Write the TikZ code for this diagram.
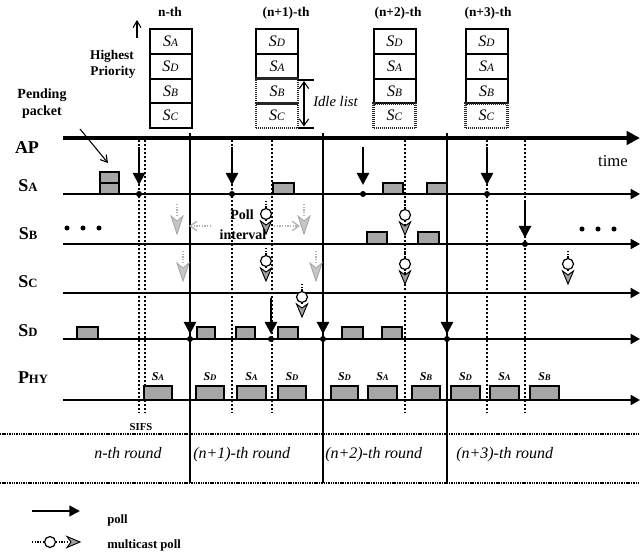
\documentclass[tikz,border=0pt]{standalone}
\usepackage{fontspec}
\setmainfont{Liberation Serif}
\usetikzlibrary{arrows.meta}
\newcommand{\smc}[2]{{\fontsize{#1}{#1}\selectfont #2}}
% multicast poll: name, x, circle-centre y
\newcommand{\mcast}[3]{%
  \node[mcirc] (#1) at (#2,#3) {};
  \coordinate (#1t) at (#2,#3-13);
  \coordinate (#1h) at (#2,#3+7);
  \draw[mstem] (#1t) -- (#1.north);
  \draw[mstem] (#1.south) -- (#1h);
  \draw[mhead] (#2-5.5,#3+7) -- (#2,#3+11) -- (#2+5.5,#3+7) -- (#2,#3+20) -- cycle;}
% grey (skipped) poll: name, x, stem top y
\newcommand{\gpoll}[3]{%
  \coordinate (#1t) at (#2,#3);
  \coordinate (#1h) at (#2,#3+12);
  \draw[gstem] (#1t) -- (#1h);
  \draw[ghead] (#2-6,#3+12) -- (#2,#3+17) -- (#2+6,#3+12) -- (#2,#3+30) -- cycle;}
\begin{document}
\begin{tikzpicture}[x=0.75pt,y=-0.75pt,
  tl/.style={line width=1.5pt,-{Triangle[length=7pt,width=7.5pt]}},
  aptl/.style={line width=2.6pt,-{Triangle[length=10pt,width=10pt]}},
  rndline/.style={line width=1.5pt},
  dotv/.style={line width=1.7pt,dash pattern=on 1.5pt off 1.5pt},
  tabline/.style={line width=1.4pt,dash pattern=on 0.8pt off 0.5pt},
  pollarr/.style={line width=1.9pt,-{Triangle[length=9pt,width=9pt]}},
  dotc/.style={circle,fill=black,inner sep=0pt,minimum size=4.5pt},
  smalldot/.style={circle,fill=black,inner sep=0pt,minimum size=3.8pt},
  pkt/.style={draw=black,line width=1.2pt,fill=gray!70},
  qcell/.style={draw=black,line width=1.5pt,minimum width=31.5pt,minimum height=18.5pt,inner sep=0pt,font=\fontsize{12}{12}\selectfont\itshape},
  qidle/.style={qcell,draw=black!85,dash pattern=on 1pt off 0.5pt,line width=2pt},
  rowlab/.style={font=\fontsize{13.5}{14}\selectfont\bfseries,anchor=base,inner sep=0pt},
  phylab/.style={font=\fontsize{9}{9}\selectfont\bfseries\itshape,anchor=base,inner sep=0pt},
  collab/.style={font=\fontsize{10}{10}\selectfont\bfseries,anchor=base,inner sep=0pt},
  bolds/.style={font=\fontsize{10.5}{11}\selectfont\bfseries,anchor=base,inner sep=0pt},
  roundlab/.style={font=\fontsize{12}{12}\selectfont\itshape,anchor=base west,inner sep=0pt},
  mcirc/.style={circle,draw=black,fill=white,line width=0.9pt,inner sep=0pt,minimum size=8.2pt},
  mstem/.style={line width=1.1pt,dash pattern=on 1pt off 1pt},
  mhead/.style={draw=black,line width=0.7pt,fill=gray!75},
  gstem/.style={draw=gray!60,line width=1pt,dash pattern=on 1pt off 1pt},
  ghead/.style={draw=gray!70,line width=0.6pt,fill=gray!45},
  thinarr/.style={line width=0.8pt,-{Straight Barb[length=5pt,width=6pt]}},
  pint/.style={draw=gray!60,line width=1pt,dash pattern=on 1pt off 1pt,-{Straight Barb[length=5pt,width=7pt]}}
]
\useasboundingbox (0,0) rectangle (640,556);

% ---------------- priority lists ----------------
\node[collab] (c1) at (170,17) {n-th};
\node[collab] (c2) at (286,17) {(n+1)-th};
\node[collab] (c3) at (398,17) {(n+2)-th};
\node[collab] (c4) at (488,17) {(n+3)-th};

\node[qcell] (q1a) at (170.5,41.5) {S\smc{8.5}{A}};
\node[qcell] (q1b) at (170.5,66.2) {S\smc{8.5}{D}};
\node[qcell] (q1c) at (170.5,90.9) {S\smc{8.5}{B}};
\node[qcell] (q1d) at (170.5,115.6) {S\smc{8.5}{C}};

\node[qcell] (q2a) at (277,41.5) {S\smc{8.5}{D}};
\node[qcell] (q2b) at (277,66.2) {S\smc{8.5}{A}};
\node[qidle] (q2c) at (277,90.9) {S\smc{8.5}{B}};
\node[qidle] (q2d) at (277,115.6) {S\smc{8.5}{C}};

\node[qcell] (q3a) at (394.5,41.5) {S\smc{8.5}{D}};
\node[qcell] (q3b) at (394.5,66.2) {S\smc{8.5}{A}};
\node[qcell] (q3c) at (394.5,90.9) {S\smc{8.5}{B}};
\node[qidle] (q3d) at (394.5,115.6) {S\smc{8.5}{C}};

\node[qcell] (q4a) at (486.5,41.5) {S\smc{8.5}{D}};
\node[qcell] (q4b) at (486.5,66.2) {S\smc{8.5}{A}};
\node[qcell] (q4c) at (486.5,90.9) {S\smc{8.5}{B}};
\node[qidle] (q4d) at (486.5,115.6) {S\smc{8.5}{C}};

% idle list bracket
\coordinate (il1) at (298,79.6); \coordinate (il1e) at (314,79.6);
\coordinate (il2) at (298,128);  \coordinate (il2e) at (314,128);
\draw[line width=1.5pt] (il1) -- (il1e);
\draw[line width=1.5pt] (il2) -- (il2e);
\coordinate (ilt) at (304,81); \coordinate (ilb) at (304,126.5);
\draw[line width=0.8pt,{Straight Barb[length=5pt,width=7pt]}-{Straight Barb[length=5pt,width=7pt]}] (ilt) -- (ilb);
\node[font=\fontsize{11}{11}\selectfont\itshape,anchor=base west,inner sep=0pt] (idle) at (313,107) {Idle list};

% highest priority
\coordinate (hpb) at (137,38); \coordinate (hpt) at (137,20);
\draw[thinarr] (hpb) -- (hpt);
\node[bolds,font=\fontsize{10}{11}\selectfont\bfseries] (hp1) at (112,60) {Highest};
\node[bolds,font=\fontsize{10}{11}\selectfont\bfseries] (hp2) at (113,76) {Priority};

% pending packet
\node[bolds] (pp1) at (42,99) {Pending};
\node[bolds] (pp2) at (42,116) {packet};
\coordinate (ppa) at (80,129); \coordinate (ppb) at (108,163);
\draw[thinarr] (ppa) -- (ppb);

% ---------------- row labels ----------------
\node[rowlab] (lAP) at (27,154) {AP};
\node[rowlab] (lSA) at (28,192) {S\smc{9.5}{A}};
\node[rowlab] (lSB) at (28,240) {S\smc{9.5}{B}};
\node[rowlab] (lSC) at (28,288) {S\smc{9.5}{C}};
\node[rowlab] (lSD) at (28,337) {S\smc{9.5}{D}};
\node[rowlab] (lPHY) at (33,383) {P\smc{9.5}{HY}};
\node[font=\fontsize{12.5}{13}\selectfont,anchor=base,inner sep=0pt] (time) at (613,167) {time};

% ---------------- table lines ----------------
\coordinate (t1s) at (0,434); \coordinate (t1e) at (640,434);
\coordinate (t2s) at (0,483); \coordinate (t2e) at (640,483);
\draw[tabline] (t1s) -- (t1e);
\draw[tabline] (t2s) -- (t2e);

% dotted verticals
\foreach \x [count=\i] in {139,145,232,272,405,487,525}{
  \coordinate (dv\i t) at (\x,136); \coordinate (dv\i b) at (\x,413);
  \draw[dotv] (dv\i t) -- (dv\i b);}

% round boundaries
\foreach \x [count=\i] in {190,323,447}{
  \coordinate (sv\i t) at (\x,133); \coordinate (sv\i b) at (\x,483);
  \draw[rndline] (sv\i t) -- (sv\i b);}

% ---------------- time lines ----------------
\coordinate (APs) at (63,138); \coordinate (APe) at (640,138);
\draw[aptl] (APs) -- (APe);
\foreach \n/\y in {SA/194,SB/244,SC/293,SD/339,PHY/400}{
  \coordinate (\n s) at (63,\y); \coordinate (\n e) at (640,\y);
  \draw[tl] (\n s) -- (\n e);}

% ---------------- packets ----------------
\draw[pkt] (100,172) rectangle (119,194);
\draw[line width=0.8pt] (100,183) -- (119,183);
\foreach \a/\b in {273/294,383/403,427/447}{\draw[pkt] (\a,183) rectangle (\b,194);}
\foreach \a/\b in {367/387,418/439}{\draw[pkt] (\a,232) rectangle (\b,244);}
\foreach \a/\b in {77/98,197/215,236/255,278/298,342/363,382/402}{\draw[pkt] (\a,327) rectangle (\b,339);}
\foreach \a/\b/\s [count=\i] in {144/172/A,196/224/D,237/266/A,278/306/D,331/358/D,368/397/A,412/440/B,451/480/D,490/519/A,530/559/B}{
  \draw[pkt] (\a,386) rectangle (\b,400);
  \node[phylab] (ph\i) at ({(\a+\b)/2},381) {S\smc{6.5}{\s}};}
\node[font=\fontsize{8}{8}\selectfont\bfseries,anchor=base,inner sep=0pt] (sifs) at (141,431) {SIFS};

% ---------------- polls ----------------
\foreach \x [count=\i] in {139,232,363,487}{
  \coordinate (pa\i s) at (\x,147); \coordinate (pa\i e) at (\x,185);
  \draw[pollarr] (pa\i s) -- (pa\i e);
  \node[dotc] (pd\i) at (\x,194) {};}
\coordinate (pbs) at (525,202); \coordinate (pbe) at (525,238);
\draw[pollarr] (pbs) -- (pbe);
\node[dotc] (pbd) at (525,244) {};
\foreach \x/\t [count=\i] in {190/300,271/298,323/300,447/300}{
  \coordinate (pds\i) at (\x,\t); \coordinate (pde\i) at (\x,334);
  \draw[pollarr] (pds\i) -- (pde\i);
  \node[dotc] (pdd\i) at (\x,339) {};}

% multicast polls
\mcast{m1}{266}{214}
\mcast{m2}{266}{261}
\mcast{m3}{302}{297}
\mcast{m4}{405}{215}
\mcast{m5}{405}{264}
\mcast{m6}{568}{264}

% skipped (grey) polls
\gpoll{g1}{177}{204}
\gpoll{g2}{304}{204}
\gpoll{g3}{183}{251}
\gpoll{g4}{316}{251}

% poll interval
\coordinate (pil) at (211,226); \coordinate (pilt) at (189,226);
\coordinate (pir) at (274,226); \coordinate (pirt) at (300,226);
\draw[pint] (pil) -- (pilt);
\draw[pint] (pir) -- (pirt);
\node[bolds] (pi1) at (242,220) {Poll};
\node[bolds] (pi2) at (243,240) {interval};

% ellipsis dots
\foreach \x [count=\i] in {67,83,99}{\node[smalldot] (el\i) at (\x,228) {};}
\foreach \x [count=\i] in {582,598,614}{\node[smalldot] (er\i) at (\x,229) {};}

% ---------------- rounds ----------------
\node[roundlab] (r1) at (94,459) {n-th round};
\node[roundlab] (r2) at (193,459) {(n+1)-th round};
\node[roundlab] (r3) at (325,459) {(n+2)-th round};
\node[roundlab] (r4) at (456,459) {(n+3)-th round};

% ---------------- legend ----------------
\coordinate (lg1s) at (32,511); \coordinate (lg1e) at (80,511);
\draw[line width=1.6pt,-{Triangle[length=8pt,width=8pt]}] (lg1s) -- (lg1e);
\node[font=\fontsize{9.5}{10}\selectfont\bfseries,anchor=base west,inner sep=0pt] (lgp) at (107,523) {poll};
\node[mcirc] (lgc) at (50,542) {};
\coordinate (lg2s) at (32,542); \coordinate (lg2m) at (67,542);
\draw[mstem] (lg2s) -- (lgc.west);
\draw[mstem] (lgc.east) -- (lg2m);
\draw[mhead] (67,536.5) -- (71,542) -- (67,547.5) -- (80,542) -- cycle;
\node[font=\fontsize{9.5}{10}\selectfont\bfseries,anchor=base west,inner sep=0pt] (lgm) at (107,548) {multicast poll};
\end{tikzpicture}
\end{document}
